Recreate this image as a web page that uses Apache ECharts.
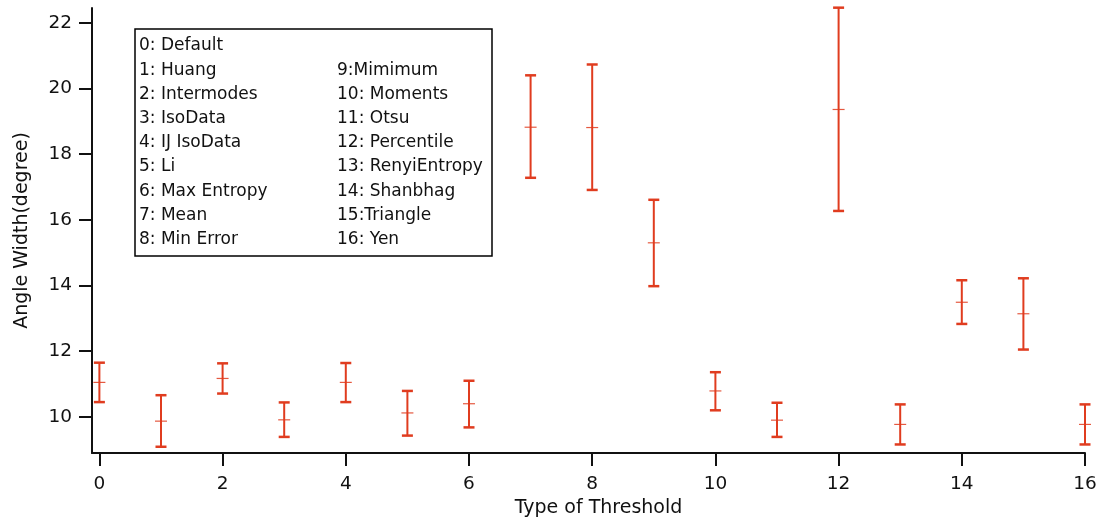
<!DOCTYPE html>
<html>
<head>
<meta charset="utf-8">
<script src="https://cdn.jsdelivr.net/npm/echarts@6/dist/echarts.min.js"></script>
<style>
html,body{margin:0;padding:0;background:#fff;}
#chart{width:1102px;height:523px;}
</style>
</head>
<body>
<div id="chart"></div>
<script>
// Threshold type index (x)
const thresholdTypes = [0,1,2,3,4,5,6,7,8,9,10,11,12,13,14,15,16];
// Mean angle width (degree)
const meanValues = [11.05, 9.87, 11.17, 9.91, 11.05, 10.12, 10.40, 18.82, 18.81, 15.30, 10.79, 9.90, 19.36, 9.77, 13.49, 13.14, 9.77];
// Error bar lower / upper ends
const lowValues  = [10.45, 9.09, 10.71, 9.39, 10.45, 9.43, 9.68, 17.28, 16.91, 13.98, 10.20, 9.39, 16.27, 9.16, 12.83, 12.05, 9.16];
const highValues = [11.65, 10.66, 11.63, 10.44, 11.64, 10.79, 11.10, 20.40, 20.73, 16.61, 11.36, 10.43, 22.46, 10.38, 14.16, 14.22, 10.38];
// Tick labels
const xTickValues = [0,2,4,6,8,10,12,14,16];
const yTickValues = [10,12,14,16,18,20,22];
// Legend text (two columns)
const legendCol1 = ['0: Default','1: Huang','2: Intermodes','3: IsoData','4: IJ IsoData','5: Li','6: Max Entropy','7: Mean','8: Min Error'];
const legendCol2 = ['','9:Mimimum','10: Moments','11: Otsu','12: Percentile','13: RenyiEntropy','14: Shanbhag','15:Triangle','16: Yen'];

const RED = '#e03c1f';
const FONT = 'DejaVu Sans';

const data = thresholdTypes.map((t, i) => [t, meanValues[i], lowValues[i], highValues[i]]);

const legendChildren = [{
  type: 'rect',
  shape: {x: 135, y: 29, width: 357, height: 227},
  style: {fill: '#fff', stroke: '#000', lineWidth: 1.5}
}];
const lineH = 24.2, midY = 46;
legendCol1.forEach((t, i) => {
  legendChildren.push({type: 'text', style: {text: t, x: 139, y: midY + i * lineH, verticalAlign: 'middle', align: 'left', font: '17px "DejaVu Sans"', fill: '#111'}});
});
legendCol2.forEach((t, i) => {
  if (!t) return;
  legendChildren.push({type: 'text', style: {text: t, x: 337, y: midY + i * lineH, verticalAlign: 'middle', align: 'left', font: '17px "DejaVu Sans"', fill: '#111'}});
});

const chart = echarts.init(document.getElementById('chart'));
chart.setOption({
  animation: false,
  backgroundColor: '#fff',
  grid: {left: 92, right: 17, top: 8, bottom: 70, containLabel: false},
  xAxis: {
    type: 'value', min: -0.12, max: 16,
    name: 'Type of Threshold', nameLocation: 'middle', nameGap: 44,
    nameTextStyle: {fontFamily: FONT, fontSize: 19, color: '#111', padding: [0, 0, 0, 20]},
    axisLine: {show: true, onZero: false, lineStyle: {color: '#111', width: 2}},
    axisTick: {show: true, length: 13, customValues: xTickValues, lineStyle: {color: '#111', width: 2}},
    axisLabel: {customValues: xTickValues, margin: 22, fontFamily: FONT, fontSize: 18.5, color: '#111'},
    splitLine: {show: false}
  },
  yAxis: {
    type: 'value', min: 8.9, max: 22.45,
    name: 'Angle Width(degree)', nameLocation: 'middle', nameGap: 60, nameRotate: 90,
    nameTextStyle: {fontFamily: FONT, fontSize: 19, color: '#111'},
    axisLine: {show: true, onZero: false, lineStyle: {color: '#111', width: 2}},
    axisTick: {show: true, length: 13, customValues: yTickValues, lineStyle: {color: '#111', width: 2}},
    axisLabel: {customValues: yTickValues, margin: 20, fontFamily: FONT, fontSize: 18.5, color: '#111'},
    splitLine: {show: false}
  },
  graphic: [{type: 'group', children: legendChildren, z: 100}],
  series: [{
    type: 'custom',
    clip: false,
    data: data,
    encode: {x: 0, y: [1, 2, 3]},
    renderItem: function (params, api) {
      const x = api.value(0);
      const pm = api.coord([x, api.value(1)]);
      const pl = api.coord([x, api.value(2)]);
      const ph = api.coord([x, api.value(3)]);
      const cw = 5.5, mw = 6;
      return {
        type: 'group',
        children: [
          {type: 'line', shape: {x1: ph[0], y1: ph[1], x2: pl[0], y2: pl[1]}, style: {stroke: RED, lineWidth: 2}},
          {type: 'line', shape: {x1: ph[0] - cw, y1: ph[1], x2: ph[0] + cw, y2: ph[1]}, style: {stroke: RED, lineWidth: 2.5}},
          {type: 'line', shape: {x1: pl[0] - cw, y1: pl[1], x2: pl[0] + cw, y2: pl[1]}, style: {stroke: RED, lineWidth: 2.5}},
          {type: 'line', shape: {x1: pm[0] - mw, y1: pm[1], x2: pm[0] + mw, y2: pm[1]}, style: {stroke: RED, lineWidth: 1.2, opacity: 0.85}}
        ]
      };
    }
  }]
});
</script>
</body>
</html>
